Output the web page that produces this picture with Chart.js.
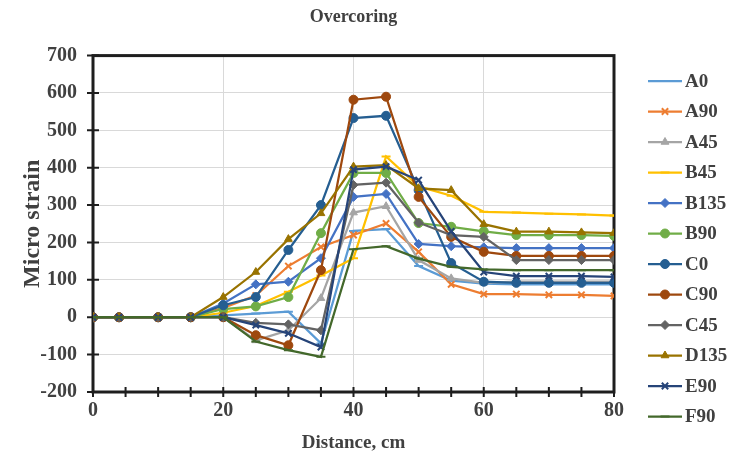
<!DOCTYPE html>
<html>
<head>
<meta charset="utf-8">
<title>Overcoring</title>
<script src="https://cdn.jsdelivr.net/npm/chart.js@4.4.0/dist/chart.umd.min.js"></script>
<style>
  html, body { margin: 0; padding: 0; background: #fff; }
  #wrap { width: 731px; height: 454px; }
</style>
</head>
<body>
<div id="wrap"><canvas id="chart" width="731" height="454"></canvas></div>
<script>
// Distance along the borehole (cm)
var distance = [0, 4, 10, 15, 20, 25, 30, 35, 40, 45, 50, 55, 60, 65, 70, 75, 80];

// Micro strain per gauge
var A0   = [0, 0, 0, 0, 5, 10, 15, -70, 231, 236, 137, 98, 90, 88, 88, 88, 88];
var A90  = [0, 0, 0, 0, 25, 58, 137, 188, 220, 251, 175, 88, 62, 62, 60, 60, 57];
var A45  = [0, 0, 0, 0, 0, -62, -35, 51, 280, 297, 153, 104, 92, 95, 95, 95, 95];
var B45  = [0, 0, 0, 0, 12, 30, 68, 112, 158, 430, 350, 325, 282, 280, 277, 275, 272];
var B135 = [0, 0, 0, 0, 37, 88, 95, 158, 322, 330, 196, 190, 187, 185, 185, 185, 185];
var B90  = [0, 0, 0, 0, 22, 29, 54, 225, 386, 386, 252, 242, 230, 220, 220, 220, 218];
var C0   = [0, 0, 0, 0, 32, 54, 180, 300, 533, 539, 340, 145, 95, 92, 92, 92, 92];
var C90  = [0, 0, 0, 0, 0, -48, -75, 126, 582, 590, 322, 215, 175, 164, 164, 164, 164];
var C45  = [0, 0, 0, 0, 0, -15, -19, -35, 354, 360, 253, 220, 215, 153, 153, 153, 153];
var D135 = [0, 0, 0, 0, 54, 121, 209, 278, 403, 407, 345, 340, 249, 229, 229, 227, 225];
var E90  = [0, 0, 0, 0, 0, -21, -43, -80, 395, 403, 367, 230, 121, 110, 110, 110, 108];
var F90  = [0, 0, 0, 0, 0, -65, -88, -106, 182, 190, 157, 135, 128, 126, 126, 126, 126];

var names  = ["A0", "A90", "A45", "B45", "B135", "B90", "C0", "C90", "C45", "D135", "E90", "F90"];
var values = [A0, A90, A45, B45, B135, B90, C0, C90, C45, D135, E90, F90];
var colors = ["#5B9BD5", "#ED7D31", "#A5A5A5", "#FFC000", "#4472C4", "#70AD47",
              "#255E91", "#9E480E", "#636363", "#997300", "#264478", "#43682B"];
var markers = ["line", "crossRot", "triangle", "line", "rectRot", "circle",
               "circle", "circle", "rectRot", "triangle", "crossRot", "line"];

var serif = "'Liberation Serif', 'Times New Roman', serif";
var textColor = "#404040";

var datasets = names.map(function (name, i) {
    return {
        label: name,
        data: values[i].map(function (v, j) { return {x: distance[j], y: v}; }),
        borderColor: colors[i],
        backgroundColor: colors[i],
        pointBackgroundColor: colors[i],
        pointBorderColor: colors[i],
        pointStyle: markers[i],
        pointRadius: 4.5,
        pointBorderWidth: markers[i] === "crossRot" || markers[i] === "line" ? 2 : 1,
        borderWidth: 2.25,
        tension: 0,
        order: names.length - i
    };
});

// Box round the plot with ticks crossing the axes
var framePlugin = {
    id: "frame",
    beforeDatasetsDraw: function (chart) {
        var a = chart.chartArea, ctx = chart.ctx;
        var xs = chart.scales.x, ys = chart.scales.y;
        ctx.save();
        ctx.strokeStyle = "#1e1e1e";
        ctx.lineWidth = 3;
        ctx.strokeRect(a.left, a.top, a.right - a.left, a.bottom - a.top);
        ctx.lineWidth = 2;
        ctx.beginPath();
        ys.ticks.forEach(function (t) {
            var py = ys.getPixelForValue(t.value);
            ctx.moveTo(a.left - 6, py);
            ctx.lineTo(a.left + 6, py);
        });
        xs.ticks.forEach(function (t) {
            var px = xs.getPixelForValue(t.value);
            ctx.moveTo(px, a.bottom - 5);
            ctx.lineTo(px, a.bottom + 5);
        });
        ctx.stroke();
        ctx.restore();
    }
};

// Excel style legend on the right: line with marker, then the name
var legendPlugin = {
    id: "sideLegend",
    afterDraw: function (chart) {
        var ctx = chart.ctx;
        chart.data.datasets.forEach(function (ds, i) {
            var cy = 81 + i * 30.5;
            ctx.save();
            ctx.strokeStyle = ds.borderColor;
            ctx.fillStyle = ds.borderColor;
            ctx.lineWidth = 2.25;
            ctx.beginPath();
            ctx.moveTo(648, cy);
            ctx.lineTo(682, cy);
            ctx.stroke();
            ctx.lineWidth = ds.pointBorderWidth;
            Chart.helpers.drawPoint(ctx, {
                pointStyle: ds.pointStyle,
                radius: 4.5,
                rotation: 0,
                borderWidth: ds.pointBorderWidth
            }, 665, cy);
            ctx.fillStyle = textColor;
            ctx.font = "bold 19px " + serif;
            ctx.textBaseline = "middle";
            ctx.textAlign = "left";
            ctx.fillText(ds.label, 685, cy + 1);
            ctx.restore();
        });
    }
};

var ctx = document.getElementById("chart").getContext("2d");
var myChart = new Chart(ctx, {
    type: "line",
    data: { datasets: datasets },
    plugins: [framePlugin, legendPlugin],
    options: {
        responsive: false,
        animation: false,
        layout: { padding: { left: 0, right: 117, top: 0, bottom: 0 } },
        plugins: {
            legend: { display: false },
            tooltip: { enabled: false },
            title: {
                display: true,
                text: "Overcoring",
                fullSize: false,
                color: textColor,
                font: { family: serif, size: 18, weight: "bold" },
                padding: { top: 7, bottom: 27 }
            }
        },
        scales: {
            x: {
                type: "linear",
                min: 0,
                max: 80,
                afterFit: function (s) { s.height = 62; },
                border: { display: false },
                grid: {
                    drawTicks: false,
                    color: function (c) { return c.tick && c.tick.value % 20 === 0 ? "#d9d9d9" : "rgba(0,0,0,0)"; }
                },
                ticks: {
                    stepSize: 5,
                    autoSkip: false,
                    maxRotation: 0,
                    padding: 7,
                    color: textColor,
                    font: { family: serif, size: 20, weight: "bold" },
                    callback: function (v) { return v % 20 === 0 ? v : ""; }
                },
                title: {
                    display: true,
                    text: "Distance, cm",
                    color: textColor,
                    font: { family: serif, size: 19, weight: "bold" },
                    padding: { top: 6, bottom: 0 }
                }
            },
            y: {
                min: -200,
                max: 700,
                afterFit: function (s) { s.width = 93; },
                border: { display: false },
                grid: { drawTicks: false, color: "#d9d9d9" },
                ticks: {
                    stepSize: 100,
                    padding: 16,
                    color: textColor,
                    font: { family: serif, size: 20, weight: "bold" }
                },
                title: {
                    display: true,
                    text: "Micro strain",
                    color: textColor,
                    font: { family: serif, size: 24, weight: "bold" },
                    padding: { top: 18, bottom: 0 }
                }
            }
        }
    }
});
</script>
</body>
</html>
